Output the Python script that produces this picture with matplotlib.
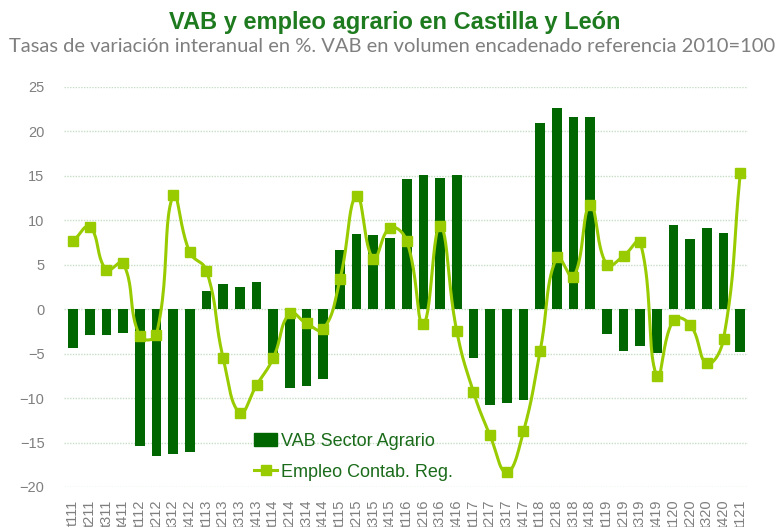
import numpy as np
import matplotlib
matplotlib.use("Agg")
import matplotlib.pyplot as plt
from matplotlib.lines import Line2D
from matplotlib.patches import Patch

quarters = ["t111", "t211", "t311", "t411",
            "t112", "t212", "t312", "t412",
            "t113", "t213", "t313", "t413",
            "t114", "t214", "t314", "t414",
            "t115", "t215", "t315", "t415",
            "t116", "t216", "t316", "t416",
            "t117", "t217", "t317", "t417",
            "t118", "t218", "t318", "t418",
            "t119", "t219", "t319", "t419",
            "t120", "t220", "t320", "t420",
            "t121"]

vab = [-4.4, -2.9, -2.85, -2.7,
       -15.4, -16.5, -16.3, -16.1,
       2.1, 2.8, 2.55, 3.1,
       -6.1, -8.85, -8.6, -7.8,
       6.7, 8.5, 8.3, 8.0,
       14.6, 15.1, 14.75, 15.1,
       -5.45, -10.8, -10.6, -10.25,
       21.0, 22.6, 21.65, 21.65,
       -2.75, -4.65, -4.1, -4.9,
       9.5, 7.85, 9.1, 8.6,
       -4.85]

empleo = [7.65, 9.25, 4.45, 5.2,
          -3.0, -2.85, 12.8, 6.4,
          4.35, -5.5, -11.65, -8.55,
          -5.5, -0.45, -1.6, -2.25,
          3.35, 12.75, 5.7, 9.15,
          7.7, -1.65, 9.35, -2.45,
          -9.3, -14.2, -18.35, -13.75,
          -4.7, 5.85, 3.65, 11.7,
          5.0, 6.0, 7.55, -7.55,
          -1.2, -1.75, -6.1, -3.3,
          15.35]

title = "VAB y empleo agrario en Castilla y León"
subtitle = "Tasas de variación interanual en %. VAB en volumen encadenado referencia 2010=100"
legend_labels = ["VAB Sector Agrario", "Empleo Contab. Reg."]

BAR = "#006600"
LINE = "#99cc00"
TXT = "#1a6b1a"
GRAY = "#7f7f7f"

plt.rcParams['font.family'] = ['Liberation Sans', 'DejaVu Sans']

fig = plt.figure(figsize=(7.79, 5.27), dpi=100)
ax = fig.add_axes([64/779, 40/527, 684/779, 400/527])

x = np.arange(len(quarters))
ax.bar(x, vab, width=0.58, color=BAR, zorder=2)

# pixel scale factors (for chord-length-aware smoothing, like spreadsheet smoothed lines)
SX, SY = 684/41.0, 400/45.0


def smooth(xs, ys, n=24, k=0.45):
    P = np.column_stack([np.asarray(xs, float) * SX, np.asarray(ys, float) * SY])
    out = []
    for i in range(len(P) - 1):
        p0 = P[i - 1] if i > 0 else P[i]
        p1 = P[i]
        p2 = P[i + 1]
        p3 = P[i + 2] if i + 2 < len(P) else P[i + 1]
        d01 = np.linalg.norm(p1 - p0)
        d12 = np.linalg.norm(p2 - p1)
        d23 = np.linalg.norm(p3 - p2)
        r1 = d12 / (d01 + d12) if d01 + d12 > 0 else 0
        r2 = d12 / (d12 + d23) if d12 + d23 > 0 else 0
        c1 = p1 + (p2 - p0) * r1 * k
        c2 = p2 - (p3 - p1) * r2 * k
        t = np.linspace(0, 1, n, endpoint=(i == len(P) - 2))[:, None]
        seg = ((1 - t) ** 3) * p1 + 3 * ((1 - t) ** 2) * t * c1 + 3 * (1 - t) * t ** 2 * c2 + t ** 3 * p2
        out.append(seg)
    out = np.vstack(out)
    return out[:, 0] / SX, out[:, 1] / SY


sx, sy = smooth(x, empleo)
ax.plot(sx, sy, color=LINE, lw=2.2, zorder=3, solid_capstyle='round')
ax.plot(x, empleo, linestyle='none', marker='s', markersize=7, color=LINE, zorder=4)

ax.set_xlim(-0.54, 40.46)
ax.set_ylim(-20, 25)
ax.set_yticks(np.arange(-20, 26, 5))
ax.yaxis.grid(True, color="#c5dec5", linestyle=(0, (1, 1)), linewidth=1.0)
ax.set_axisbelow(True)
for s in ax.spines.values():
    s.set_visible(False)
ax.tick_params(axis='both', length=0, colors=GRAY, labelsize=10.5)
ax.tick_params(axis='y', pad=14)
ax.tick_params(axis='x', pad=9)
ax.set_xticks(x)
ax.set_xticklabels(quarters, rotation=90, fontsize=10.5, color=GRAY)

handles = [Patch(facecolor=BAR, edgecolor=BAR),
           Line2D([0], [0], color=LINE, lw=2.2, marker='s', markersize=7)]
leg = ax.legend(handles, legend_labels, loc='upper left',
                bbox_to_anchor=(254/779, 1 - 433/527), bbox_transform=fig.transFigure,
                frameon=False, fontsize=13, handlelength=1.3, handleheight=0.75,
                handletextpad=0.2, labelspacing=0.75, borderpad=0, borderaxespad=0)
for t in leg.get_texts():
    t.set_color(TXT)

fig.text(0.507, 1 - 22/527, title, ha='center', va='center', fontsize=17,
         fontweight='bold', color="#1e7a1e",
         family=['Liberation Sans Narrow', 'Liberation Sans', 'DejaVu Sans'])
fig.text(0.503, 1 - 47/527, subtitle, ha='center', va='center', fontsize=14.5,
         color=GRAY, family=['Lato', 'Liberation Sans', 'DejaVu Sans'])

fig.savefig("out.png", dpi=100)
